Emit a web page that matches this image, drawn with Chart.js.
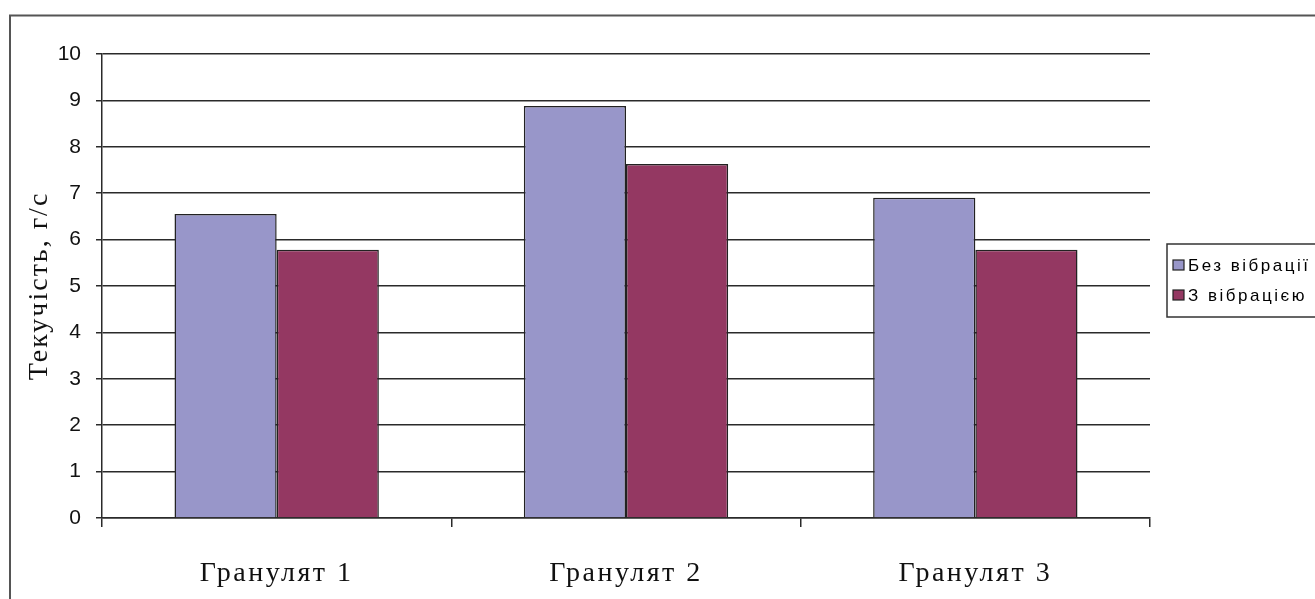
<!DOCTYPE html>
<html>
<head>
<meta charset="utf-8">
<script src="https://cdn.jsdelivr.net/npm/chart.js@4.4.1/dist/chart.umd.min.js"></script>
<style>
  html, body { margin: 0; padding: 0; background: #fff; overflow: hidden; }
  #wrap { position: relative; width: 1315px; height: 599px; }
  canvas { display: block; }
</style>
</head>
<body>
<div id="wrap"><canvas id="c" width="1315" height="599"></canvas></div>
<script>
// Flowability of granulates, g/s
const categories = ['Гранулят 1', 'Гранулят 2', 'Гранулят 3'];
const seriesNames = ['Без вібрації', 'З вібрацією'];
const withoutVibration = [6.55, 8.88, 6.90];
const withVibration = [5.78, 7.63, 5.78];
const yTickValues = [0, 1, 2, 3, 4, 5, 6, 7, 8, 9, 10];
const yAxisTitle = 'Текучість, г/с';

const seriesColors = ['#9896C9', '#943862'];
const lineColor = '#2a2a2a';

// Outer frame of the chart object
const framePlugin = {
  id: 'frame',
  beforeDraw(chart) {
    const ctx = chart.ctx;
    ctx.save();
    ctx.fillStyle = '#fff';
    ctx.fillRect(0, 0, chart.width, chart.height);
    ctx.strokeStyle = '#555';
    ctx.lineWidth = 2;
    ctx.strokeRect(10, 15.5, chart.width + 100, chart.height + 100);
    ctx.restore();
  }
};

// Wider letter spacing for the category labels and the axis title
const spacingPlugin = {
  id: 'textSpacing',
  afterLayout(chart) {
    const patch = (scale, method, spacing) => {
      const orig = scale[method];
      if (orig._spaced) return;
      const wrapped = function (...args) {
        const ctx = this.ctx;
        const prev = ctx.letterSpacing;
        ctx.letterSpacing = spacing;
        try { return orig.apply(this, args); }
        finally { ctx.letterSpacing = prev; }
      };
      wrapped._spaced = true;
      scale[method] = wrapped;
    };
    patch(chart.scales.x, 'drawLabels', '2.5px');
    patch(chart.scales.y, 'drawTitle', '2px');
  }
};

// Boxed legend on the right of the plot area
const boxLegendPlugin = {
  id: 'boxLegend',
  afterDraw(chart) {
    const ctx = chart.ctx;
    const a = chart.chartArea;
    const x = a.right + 17;
    const y = Math.round((a.top + a.bottom) / 2) - 42;
    const w = 200, h = 73;
    ctx.save();
    ctx.fillStyle = '#fff';
    ctx.fillRect(x, y, w, h);
    ctx.strokeStyle = '#333';
    ctx.lineWidth = 1.5;
    ctx.strokeRect(x, y, w, h);
    ctx.font = '17px "Liberation Sans", Arial, sans-serif';
    ctx.letterSpacing = '2.5px';
    ctx.textBaseline = 'middle';
    ctx.textAlign = 'left';
    chart.data.datasets.forEach((ds, i) => {
      const cy = y + 21 + i * 30;
      ctx.fillStyle = ds.backgroundColor;
      ctx.fillRect(x + 6, cy - 5, 11, 10);
      ctx.lineWidth = 1.2;
      ctx.strokeStyle = '#222';
      ctx.strokeRect(x + 6, cy - 5, 11, 10);
      ctx.fillStyle = '#000';
      ctx.fillText(ds.label, x + 21, cy + 1);
    });
    ctx.restore();
  }
};

new Chart(document.getElementById('c'), {
  type: 'bar',
  data: {
    labels: categories,
    datasets: [
      {
        label: seriesNames[0],
        data: withoutVibration,
        backgroundColor: seriesColors[0],
        borderColor: '#222',
        borderWidth: 1.5,
        barPercentage: 1,
        categoryPercentage: 0.585
      },
      {
        label: seriesNames[1],
        data: withVibration,
        backgroundColor: seriesColors[1],
        borderColor: '#222',
        borderWidth: 1.5,
        barPercentage: 1,
        categoryPercentage: 0.585
      }
    ]
  },
  options: {
    responsive: false,
    animation: false,
    devicePixelRatio: 1,
    layout: { padding: { left: 0, top: 54, right: 165, bottom: 0 } },
    plugins: {
      legend: { display: false },
      tooltip: { enabled: false }
    },
    scales: {
      x: {
        afterFit(scale) { scale.height = 81; },
        grid: {
          display: true,
          drawOnChartArea: false,
          drawTicks: true,
          tickLength: 9,
          color: lineColor,
          lineWidth: 1.5,
          offset: true
        },
        border: { display: true, color: lineColor, width: 1.5 },
        ticks: {
          color: '#111',
          padding: 30,
          font: { family: '"Liberation Serif", "Times New Roman", serif', size: 28 }
        }
      },
      y: {
        min: 0,
        max: 10,
        afterFit(scale) { scale.width = 102; },
        afterBuildTicks(scale) { scale.ticks = yTickValues.map(v => ({ value: v })); },
        grid: {
          color: lineColor,
          lineWidth: 1.5,
          drawTicks: true,
          tickLength: 6
        },
        border: { display: true, color: lineColor, width: 1.5 },
        ticks: {
          color: '#111',
          padding: 15,
          font: { family: '"Liberation Sans", Arial, sans-serif', size: 21 }
        },
        title: {
          display: true,
          text: yAxisTitle,
          color: '#111',
          padding: { top: 26, bottom: 0 },
          font: { family: '"Liberation Serif", "Times New Roman", serif', size: 28, lineHeight: 1 }
        }
      }
    }
  },
  plugins: [framePlugin, spacingPlugin, boxLegendPlugin]
});
</script>
</body>
</html>
